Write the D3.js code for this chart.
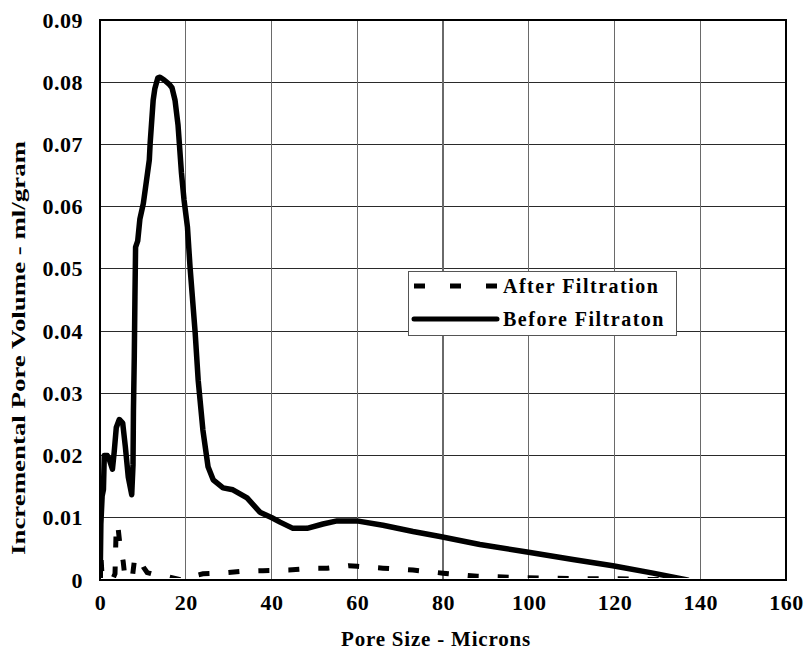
<!DOCTYPE html>
<html>
<head>
<meta charset="utf-8">
<script src="https://cdn.jsdelivr.net/npm/d3@7"></script>
<style>
  html, body { margin: 0; padding: 0; background: #fff; }
  svg text { font-family: "Liberation Serif", "Times New Roman", serif; }
</style>
</head>
<body>
<svg id="chart" width="806" height="658"></svg>
<script>
// Pore size distribution (incremental pore volume vs pore size)
const seriesNames = ["After Filtration", "Before Filtraton"];

const beforeSize = [0.05, 0.2, 0.5, 0.8, 1.0, 1.7, 2.1, 2.9, 3.3, 3.8, 4.5, 5.3, 5.9, 6.6, 7.4, 7.7, 7.8, 7.95, 8.0, 8.15, 8.3, 8.8, 9.3, 10.1, 10.8, 11.5, 11.7, 12.4, 12.8, 13.5, 14.0, 14.9, 16.1, 16.8, 17.5, 18.2, 19.0, 19.6, 20.4, 21.0, 22.2, 22.9, 24.0, 25.2, 26.4, 28.7, 31.0, 34.3, 37.3, 40.1, 42.0, 45.0, 48.3, 52.0, 55.3, 59.9, 66.0, 73.0, 79.3, 88.6, 99.6, 110.3, 119.6, 129.0, 137.0];
const beforeVolume = [0.0005, 0.009, 0.0135, 0.0145, 0.0200, 0.0200, 0.0195, 0.0178, 0.0205, 0.0245, 0.0258, 0.0252, 0.0215, 0.0165, 0.0137, 0.0185, 0.0273, 0.0338, 0.0360, 0.0455, 0.0535, 0.0545, 0.0580, 0.0605, 0.0640, 0.0675, 0.0702, 0.0771, 0.0790, 0.0807, 0.0808, 0.0804, 0.0797, 0.0791, 0.0771, 0.0731, 0.0654, 0.0611, 0.0567, 0.0503, 0.0397, 0.0321, 0.0241, 0.0182, 0.0161, 0.0148, 0.0145, 0.0132, 0.0109, 0.0100, 0.0093, 0.0083, 0.0083, 0.0090, 0.0095, 0.0095, 0.0088, 0.0078, 0.0070, 0.0057, 0.0045, 0.0033, 0.0023, 0.0011, 0.0];

const afterSize = [0.05, 0.2, 0.5, 1.0, 2.0, 3.0, 3.5, 3.8, 4.2, 4.6, 5.0, 5.4, 5.8, 6.5, 7.5, 8.0, 8.6, 9.3, 10.2, 11.0, 13.0, 16.0, 19.0, 21.0, 24.0, 28.0, 33.0, 38.0, 44.0, 50.0, 53.0, 58.0, 60.0, 66.0, 73.0, 80.0, 88.0, 98.0, 105.0, 112.0, 120.0, 128.0, 135.0];
const afterVolume = [0.0, 0.004, 0.0005, 0.0003, 0.0005, 0.0002, 0.0010, 0.0090, 0.0085, 0.0060, 0.0045, 0.0030, 0.0005, 0.0004, 0.0002, 0.0030, 0.0037, 0.0035, 0.0020, 0.0012, 0.0008, 0.0005, 0.0, 0.0005, 0.0010, 0.0011, 0.0014, 0.0015, 0.0016, 0.0019, 0.0019, 0.0023, 0.0022, 0.0019, 0.0016, 0.0011, 0.0006, 0.0004, 0.0003, 0.0002, 0.0002, 0.0001, 0.0];

const xTicks = [0, 20, 40, 60, 80, 100, 120, 140, 160];
const yTicks = [0, 0.01, 0.02, 0.03, 0.04, 0.05, 0.06, 0.07, 0.08, 0.09];

const xTitle = "Pore Size - Microns";
const yTitle = "Incremental Pore Volume - ml/gram";

const svg = d3.select("#chart");
const plot = { left: 100, top: 20, right: 786, bottom: 580 };

const x = d3.scaleLinear().domain([0, 160]).range([plot.left, plot.right]);
const y = d3.scaleLinear().domain([0, 0.09]).range([plot.bottom, plot.top]);

// gridlines
const grid = svg.append("g");
grid.selectAll("line.h").data(yTicks.slice(1, -1)).enter().append("line")
  .attr("x1", plot.left).attr("x2", plot.right)
  .attr("y1", d => y(d)).attr("y2", d => y(d))
  .attr("stroke", "#2a2a2a").attr("stroke-width", 1.2).attr("shape-rendering", "crispEdges");
grid.selectAll("line.v").data(xTicks.slice(1, -1)).enter().append("line")
  .attr("y1", plot.top).attr("y2", plot.bottom)
  .attr("x1", d => x(d)).attr("x2", d => x(d))
  .attr("stroke", "#6a6a6a").attr("stroke-width", 1.2).attr("shape-rendering", "crispEdges");

// plot frame
svg.append("rect")
  .attr("x", plot.left).attr("y", plot.top)
  .attr("width", plot.right - plot.left).attr("height", plot.bottom - plot.top)
  .attr("fill", "none").attr("stroke", "#000").attr("stroke-width", 2);

// axes (labels only)
const xAxis = svg.append("g").attr("transform", `translate(0,${plot.bottom})`)
  .call(d3.axisBottom(x).tickValues(xTicks).tickSize(0).tickPadding(14).tickFormat(d3.format("d")));
const yAxis = svg.append("g").attr("transform", `translate(${plot.left},0)`)
  .call(d3.axisLeft(y).tickValues(yTicks).tickSize(0).tickPadding(17)
    .tickFormat(d => d === 0 ? "0" : d3.format(".2f")(d)));
[xAxis, yAxis].forEach(a => {
  a.attr("font-family", null);
  a.select(".domain").remove();
  a.selectAll("text")
    .attr("font-size", 22).attr("font-weight", "bold")
    .attr("letter-spacing", 0.5).attr("fill", "#000");
});
xAxis.selectAll("text").attr("dy", "0.71em");

// axis titles
svg.append("text")
  .attr("x", 436).attr("y", 646)
  .attr("text-anchor", "middle")
  .attr("font-size", 21).attr("font-weight", "bold").attr("letter-spacing", 0.8)
  .text(xTitle);
svg.append("text")
  .attr("transform", "translate(25,348) rotate(-90)")
  .attr("text-anchor", "middle")
  .attr("font-size", 18).attr("font-weight", "bold")
  .attr("textLength", 414).attr("lengthAdjust", "spacingAndGlyphs")
  .text(yTitle);

// series lines
const line = d3.line().x(d => x(d[0])).y(d => y(d[1])).curve(d3.curveLinear);
const afterData = d3.zip(afterSize, afterVolume);
const beforeData = d3.zip(beforeSize, beforeVolume);

svg.append("clipPath").attr("id", "plotClip").append("rect")
  .attr("x", plot.left).attr("y", plot.top - 5)
  .attr("width", plot.right - plot.left).attr("height", plot.bottom - plot.top + 3);

svg.append("path").datum(afterData)
  .attr("d", line).attr("fill", "none")
  .attr("stroke", "#000").attr("stroke-width", 5)
  .attr("stroke-dasharray", "11,19")
  .attr("clip-path", "url(#plotClip)");

svg.append("path").datum(beforeData)
  .attr("d", line).attr("fill", "none")
  .attr("stroke", "#000").attr("stroke-width", 5.5)
  .attr("stroke-linejoin", "round").attr("stroke-linecap", "round")
  .attr("clip-path", "url(#plotClip)");

// legend
const legend = svg.append("g");
legend.append("rect")
  .attr("x", 408.5).attr("y", 271.5).attr("width", 268).attr("height", 64)
  .attr("fill", "#fff").attr("stroke", "#555").attr("stroke-width", 1);
const legendRows = [
  { name: seriesNames[0], dash: "11,25", yPos: 286 },
  { name: seriesNames[1], dash: null, yPos: 319 }
];
legendRows.forEach(r => {
  legend.append("line")
    .attr("x1", 414).attr("x2", 497).attr("y1", r.yPos).attr("y2", r.yPos)
    .attr("stroke", "#000").attr("stroke-width", 5)
    .attr("stroke-dasharray", r.dash)
    .attr("stroke-linecap", r.dash ? "butt" : "round");
  legend.append("text")
    .attr("x", 503).attr("y", r.yPos).attr("dy", "0.35em")
    .attr("font-size", 20).attr("font-weight", "bold").attr("letter-spacing", 1.5)
    .text(r.name);
});
</script>
</body>
</html>
